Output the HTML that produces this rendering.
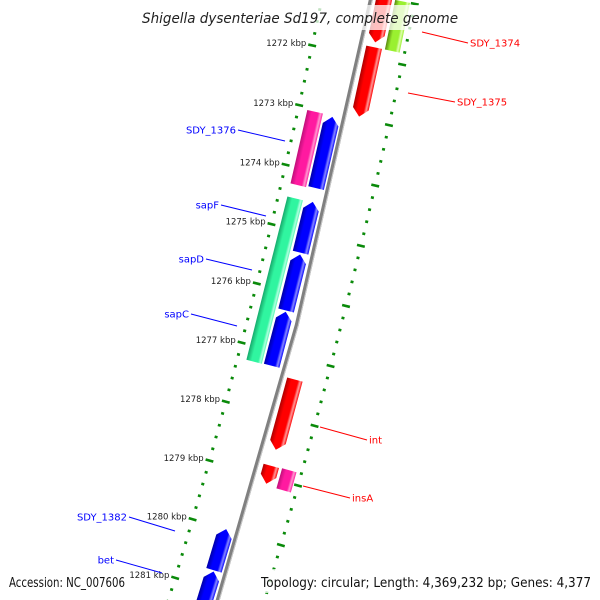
<!DOCTYPE html>
<html><head><meta charset="utf-8"><style>
html,body{margin:0;padding:0;background:#fff;overflow:hidden;width:600px;height:600px;}
svg{display:block;overflow:hidden;font-family:"DejaVu Sans","Liberation Sans",sans-serif;}
</style></head><body>
<svg id="chart" width="600" height="600" viewBox="0 0 600 600" xmlns="http://www.w3.org/2000/svg">
<defs id="defs"></defs>
<g id="rings"></g>
<g id="backbone"></g>
<g id="features"></g>
<g id="ticklabels"></g>
<g id="labels"></g>
<rect x="138" y="5" width="324" height="25" fill="#fff" fill-opacity="0.75"/>
<text x="142" y="23" textLength="316" lengthAdjust="spacingAndGlyphs" font-size="14" font-style="italic" fill="#222">Shigella dysenteriae Sd197, complete genome</text>
<rect x="4" y="569" width="126" height="24" fill="#fff" fill-opacity="0.75"/>
<text x="9" y="587" textLength="116" lengthAdjust="spacingAndGlyphs" font-size="13" fill="#111">Accession: NC_007606</text>
<rect x="256" y="569" width="340" height="24" fill="#fff" fill-opacity="0.75"/>
<text x="261" y="587" textLength="330" lengthAdjust="spacingAndGlyphs" font-size="13" fill="#111">Topology: circular; Length: 4,369,232 bp; Genes: 4,377</text>
</svg>
<script>
// ---- data ----
const tickKbp = [1272,1273,1274,1275,1276,1277,1278,1279,1280,1281];
const tickLabels = ["1272 kbp","1273 kbp","1274 kbp","1275 kbp","1276 kbp","1277 kbp","1278 kbp","1279 kbp","1280 kbp","1281 kbp"];
const featStart = [1271.0,1271.82,1271.0,1273.05,1273.07,1274.50,1274.49,1275.37,1276.33,1277.36,1278.81,1278.80,1280.0,1280.72];
const featEnd   = [1271.74,1272.97,1271.82,1274.28,1274.26,1277.25,1275.34,1276.31,1277.24,1278.54,1279.11,1279.14,1280.70,1282.2];
const featStrand= [1,1,1,-1,-1,-1,-1,-1,-1,1,1,1,-1,-1];
const featSlot  = [1,1,2,2,1,2,1,1,1,1,1,2,1,1];
const featColor = ["red","red","lime","pink","blue","green","blue","blue","blue","red","red","pink","blue","blue"];
const labelText = ["SDY_1374","SDY_1375","SDY_1376","sapF","sapD","sapC","int","insA","SDY_1382","bet"];
const labelSide = [1,1,-1,-1,-1,-1,1,1,-1,-1];
const labelLineX1 = [422,408,285,266,252,237,320,303,175,162];
const labelLineY1 = [32,93,141,216,270,326,427,486,531,573];
const labelLineX2 = [468,455,238,221,206,191,367,350,129,116];
const labelLineY2 = [43,102,130,205,259,314,440,498,517,560];

// ---- geometry ----
const CX=-6097, CY=-1320, A0=0.2099, DA=0.009325;
const R_BB=6602, R_IN=6553, R_OUT=6645;
function ang(k){return A0+(k-1272)*DA;}
function P(k,r){const a=ang(k);return [CX+r*Math.cos(a), CY+r*Math.sin(a)];}
const NS="http://www.w3.org/2000/svg";
function mk(tag,attrs,parent){const e=document.createElementNS(NS,tag);for(const k in attrs)e.setAttribute(k,attrs[k]);parent.appendChild(e);return e;}
const palette={red:["#b00000","#ff0000","#ff9a9a"],blue:["#0000a8","#0000ff","#8a8aff"],pink:["#c0107a","#ff1aa0","#ff9ad0"],green:["#18b070","#30f5a0","#b0ffe0"],lime:["#5a8a10","#9af030","#e0ffb0"]};
const slotR={"1":[6606,6622],"2":[6625,6640],"-1":[6580,6596],"-2":[6562,6578]};

// rings
const rings=document.getElementById('rings');
for(let i=0;i<=55;i++){
  const k=1271+i*0.2;
  const major=(i%5===0);
  [R_IN,R_OUT].forEach(function(r){
    const h=major?4:1.5;
    const a=P(k,r-h), b=P(k,r+h);
    const l=mk('line',{x1:a[0],y1:a[1],x2:b[0],y2:b[1],stroke:'#0a8a0a','stroke-width':2.6},rings);
    
    
  });
}
// backbone
const bb=document.getElementById('backbone');
{
  const a=P(1270.5,R_BB),c=P(1282.5,R_BB),m=P(1276.5,R_BB);
  const p=mk('path',{d:`M${a[0]},${a[1]} L${m[0]},${m[1]} L${c[0]},${c[1]}`,stroke:'#808080','stroke-width':4,fill:'none'},bb);
  
  
  const a2=P(1270.5,R_BB+1.5),m2=P(1276.5,R_BB+1.5),c2=P(1282.5,R_BB+1.5);
  const p2=mk('path',{d:`M${a2[0]},${a2[1]} L${m2[0]},${m2[1]} L${c2[0]},${c2[1]}`,stroke:'#c8c8c8','stroke-width':1,fill:'none'},bb);
  
  
}
// features
const fg=document.getElementById('features'), defs=document.getElementById('defs');
const HEAD=0.13;
for(let i=0;i<featStart.length;i++){
  const key=String(featStrand[i]*featSlot[i]);
  const r0=slotR[key][0], r1=slotR[key][1], rm=(r0+r1)/2;
  const s=featStart[i], e=featEnd[i];
  let pts;
  if(featSlot[i]===1){
    if(featStrand[i]===1){
      const b=Math.max(s,e-HEAD);
      pts=[P(s,r0),P(s,r1),P(b,r1),P(e,rm),P(b,r0)];
    }else{
      const b=Math.min(e,s+HEAD);
      pts=[P(s,rm),P(b,r1),P(e,r1),P(e,r0),P(b,r0)];
    }
  }else{
    pts=[P(s,r0),P(s,r1),P(e,r1),P(e,r0)];
  }
  const mid=(s+e)/2, gi=P(mid,r0), go=P(mid,r1);
  const c=palette[featColor[i]];
  const gid='g'+i;
  const lg=mk('linearGradient',{id:gid,gradientUnits:'userSpaceOnUse',x1:gi[0],y1:gi[1],x2:go[0],y2:go[1]},defs);
  [[0,c[0]],[0.3,c[1]],[0.7,c[1]],[0.85,c[2]],[1,c[1]]].forEach(function(st){mk('stop',{offset:st[0],'stop-color':st[1]},lg);});
  const poly=mk('polygon',{points:pts.map(p=>p[0].toFixed(1)+','+p[1].toFixed(1)).join(' '),fill:'url(#'+gid+')'},fg);
  
  
}
// tick labels
const tl=document.getElementById('ticklabels');
for(let i=0;i<tickKbp.length;i++){
  const p=P(tickKbp[i],R_IN-6);
  const t=mk('text',{x:p[0],y:p[1]+2,'text-anchor':'end','font-size':8.5,fill:'#222'},tl);
  t.textContent=tickLabels[i];
  
  
}
// feature labels
const lb=document.getElementById('labels');
for(let i=0;i<labelText.length;i++){
  const side=labelSide[i];
  const col=side===1?'#ff0000':'#0000ff';
  const ln=mk('line',{x1:labelLineX1[i],y1:labelLineY1[i],x2:labelLineX2[i],y2:labelLineY2[i],stroke:col,'stroke-width':1},lb);
  
  
  const t=mk('text',{x:labelLineX2[i]+side*2,y:labelLineY2[i]+3.5,'text-anchor':side===1?'start':'end','font-size':10,fill:col},lb);
  t.textContent=labelText[i];
  
  
}
</script>
</body></html>
